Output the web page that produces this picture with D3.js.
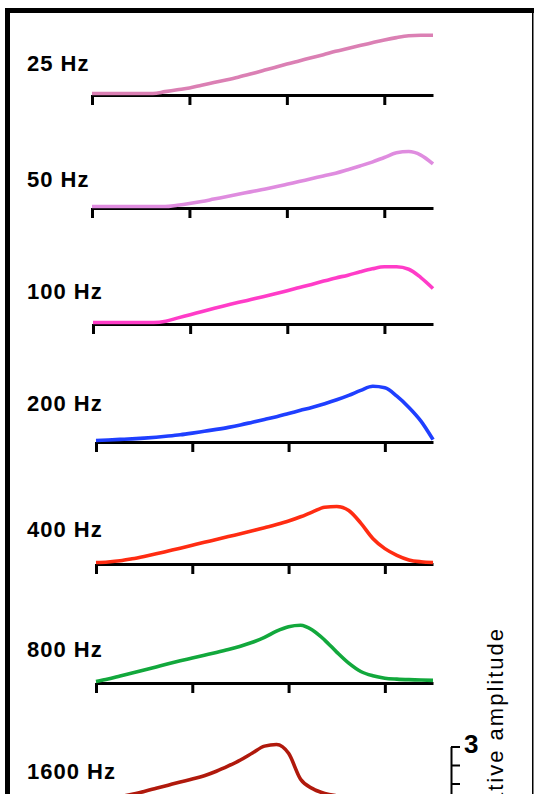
<!DOCTYPE html>
<html>
<head>
<style>
body {
	margin: 0;
	background: white;
}
.label {
	font-family: "Liberation Sans", Arial, sans-serif;
	font-weight: bold;
	font-size: 22px;
	letter-spacing: 1px;
}
</style>
</head>
<body>

<div>
    <svg width="534" height="794"></svg>
</div>

</body>

<script src="https://d3js.org/d3.v7.min.js"></script>
<script>

// frequency of each panel, top to bottom
let freqLabels = ["25 Hz", "50 Hz", "100 Hz", "200 Hz", "400 Hz", "800 Hz", "1600 Hz"];
let colors = ["#db80b4", "#df8cdf", "#ff3cc8", "#1f3fff", "#ff2c12", "#12a83c", "#b0190c"];

// position along the axis (axis units)
let positions = [0, 0.125, 0.25, 0.375, 0.5, 0.625, 0.75, 0.875, 1, 1.125, 1.25, 1.375, 1.5, 1.625,
    1.75, 1.875, 2, 2.125, 2.25, 2.375, 2.5, 2.625, 2.75, 2.875, 3, 3.125, 3.25, 3.375, 3.5];

// relative amplitude for each frequency
let amp25 = [0, 0, 0, 0, 0, 0, 0.1, 0.2, 0.3, 0.45, 0.59, 0.73, 0.88, 1.05, 1.23, 1.4, 1.59, 1.76,
    1.93, 2.1, 2.28, 2.43, 2.59, 2.74, 2.89, 3.02, 3.12, 3.15, 3.15];
let amp50 = [0, 0, 0, 0, 0, 0, 0, 0.07, 0.16, 0.27, 0.4, 0.53, 0.66, 0.79, 0.92, 1.05, 1.2, 1.35,
    1.5, 1.65, 1.8, 1.99, 2.19, 2.4, 2.65, 2.9, 2.97, 2.78, 2.3];
let amp100 = [0, 0, 0, 0, 0, 0, 0.07, 0.25, 0.42, 0.6, 0.77, 0.93, 1.09, 1.24, 1.39, 1.55, 1.72, 1.89,
    2.06, 2.24, 2.41, 2.56, 2.74, 2.9, 3.01, 3.01, 2.88, 2.43, 1.84];
let amp200 = [0, 0.03, 0.06, 0.09, 0.13, 0.18, 0.24, 0.31, 0.4, 0.5, 0.6, 0.71, 0.84, 0.99, 1.14,
    1.29, 1.46, 1.63, 1.8, 1.99, 2.2, 2.44, 2.71, 2.93, 2.85, 2.4, 1.79, 1.05, 0.05];
let amp400 = [0, 0.03, 0.09, 0.2, 0.33, 0.47, 0.62, 0.77, 0.93, 1.09, 1.24, 1.4, 1.55, 1.71, 1.88,
    2.05, 2.24, 2.47, 2.74, 2.99, 3.03, 2.81, 2.13, 1.3, 0.75, 0.39, 0.14, 0.04, 0];
let amp800 = [0, 0.14, 0.3, 0.46, 0.62, 0.79, 0.96, 1.12, 1.27, 1.42, 1.57, 1.73, 1.91, 2.12, 2.38,
    2.72, 2.96, 3.04, 2.77, 2.24, 1.59, 0.99, 0.54, 0.31, 0.18, 0.13, 0.1, 0.08, 0.06];
let amp1600 = [0, 0.05, 0.2, 0.34, 0.49, 0.66, 0.83, 1.0, 1.16, 1.34, 1.58, 1.87, 2.19, 2.57, 2.94,
    3.03, 2.55, 1.15, 0.64, 0.38, 0.25, 0.17, 0.12, 0.08, 0.06, 0.05, 0.04, 0.03, 0.03];

let xTicks = [0, 1, 2, 3];
let scaleTicks = [0, 1, 2, 3];
let scaleLabel = "3";
let yTitle = "Relative amplitude";

let series = [amp25, amp50, amp100, amp200, amp400, amp800, amp1600];

// layout
let width = 534, height = 794;
let axisY = [95, 208, 324, 442, 564, 683, 802];
let axisLeft = [92, 92, 93, 96, 96, 96, 96];
let axisRight = 433;
let labelBase = [71, 187, 299, 411, 537, 657, 779];
let unitPx = 18.5;

let svg = d3.select('svg');

svg.append('rect')
    .attr('width', width)
    .attr('height', height)
    .attr('fill', 'white');

function drawPanel(i) {
    let x = d3.scaleLinear().domain([0, 3.5]).range([axisLeft[i], axisRight]);
    let y = d3.scaleLinear().domain([0, 3]).range([axisY[i] - 1.5, axisY[i] - 1.5 - 3 * unitPx]);

    let g = svg.append('g');

    let ax = g.append('g')
        .attr('transform', 'translate(0,' + axisY[i] + ')')
        .call(d3.axisBottom(x).tickValues(xTicks).tickSize(10).tickSizeOuter(0).tickFormat(''));
    ax.select('.domain').attr('stroke', 'black').attr('stroke-width', 3);
    ax.selectAll('.tick line').attr('stroke', 'black').attr('stroke-width', 3);

    let line = d3.line()
        .x(function(d, k) { return x(positions[k]); })
        .y(function(d) { return y(d); })
        .curve(d3.curveMonotoneX);

    g.append('path')
        .datum(series[i])
        .attr('d', line)
        .attr('fill', 'none')
        .attr('stroke', colors[i])
        .attr('stroke-width', 3.6)
        .attr('stroke-linejoin', 'round');

    g.append('text')
        .attr('class', 'label')
        .attr('x', 27)
        .attr('y', labelBase[i])
        .text(freqLabels[i]);
}

for (let i = 0; i < series.length; i++) {
    drawPanel(i);
}

// amplitude scale bar
let ys = d3.scaleLinear().domain([0, 3]).range([axisY[6], axisY[6] - 3 * unitPx]);
let sb = svg.append('g')
    .attr('transform', 'translate(451,0)')
    .call(d3.axisRight(ys).tickValues(scaleTicks).tickSize(9).tickSizeOuter(0).tickFormat(''));
sb.select('.domain').attr('stroke', 'black').attr('stroke-width', 2);
sb.selectAll('.tick line').attr('stroke', 'black').attr('stroke-width', 2);

svg.append('text')
    .attr('x', 464)
    .attr('y', ys(3) + 6)
    .style('font-family', '"Liberation Sans", Arial, sans-serif')
    .style('font-weight', 'bold')
    .style('font-size', '26px')
    .text(scaleLabel);

svg.append('text')
    .attr('transform', 'translate(503,627) rotate(-90)')
    .attr('text-anchor', 'end')
    .style('font-family', '"Liberation Sans", Arial, sans-serif')
    .style('font-size', '22px')
    .style('letter-spacing', '2px')
    .text(yTitle);

// frame
svg.append('rect').attr('x', 5).attr('y', 8).attr('width', width - 5).attr('height', 5).attr('fill', 'black');
svg.append('rect').attr('x', 5).attr('y', 8).attr('width', 5).attr('height', height - 8).attr('fill', 'black');
svg.append('rect').attr('x', 532).attr('y', 8).attr('width', 1.5).attr('height', height - 8).attr('fill', 'black');

</script>

</html>
